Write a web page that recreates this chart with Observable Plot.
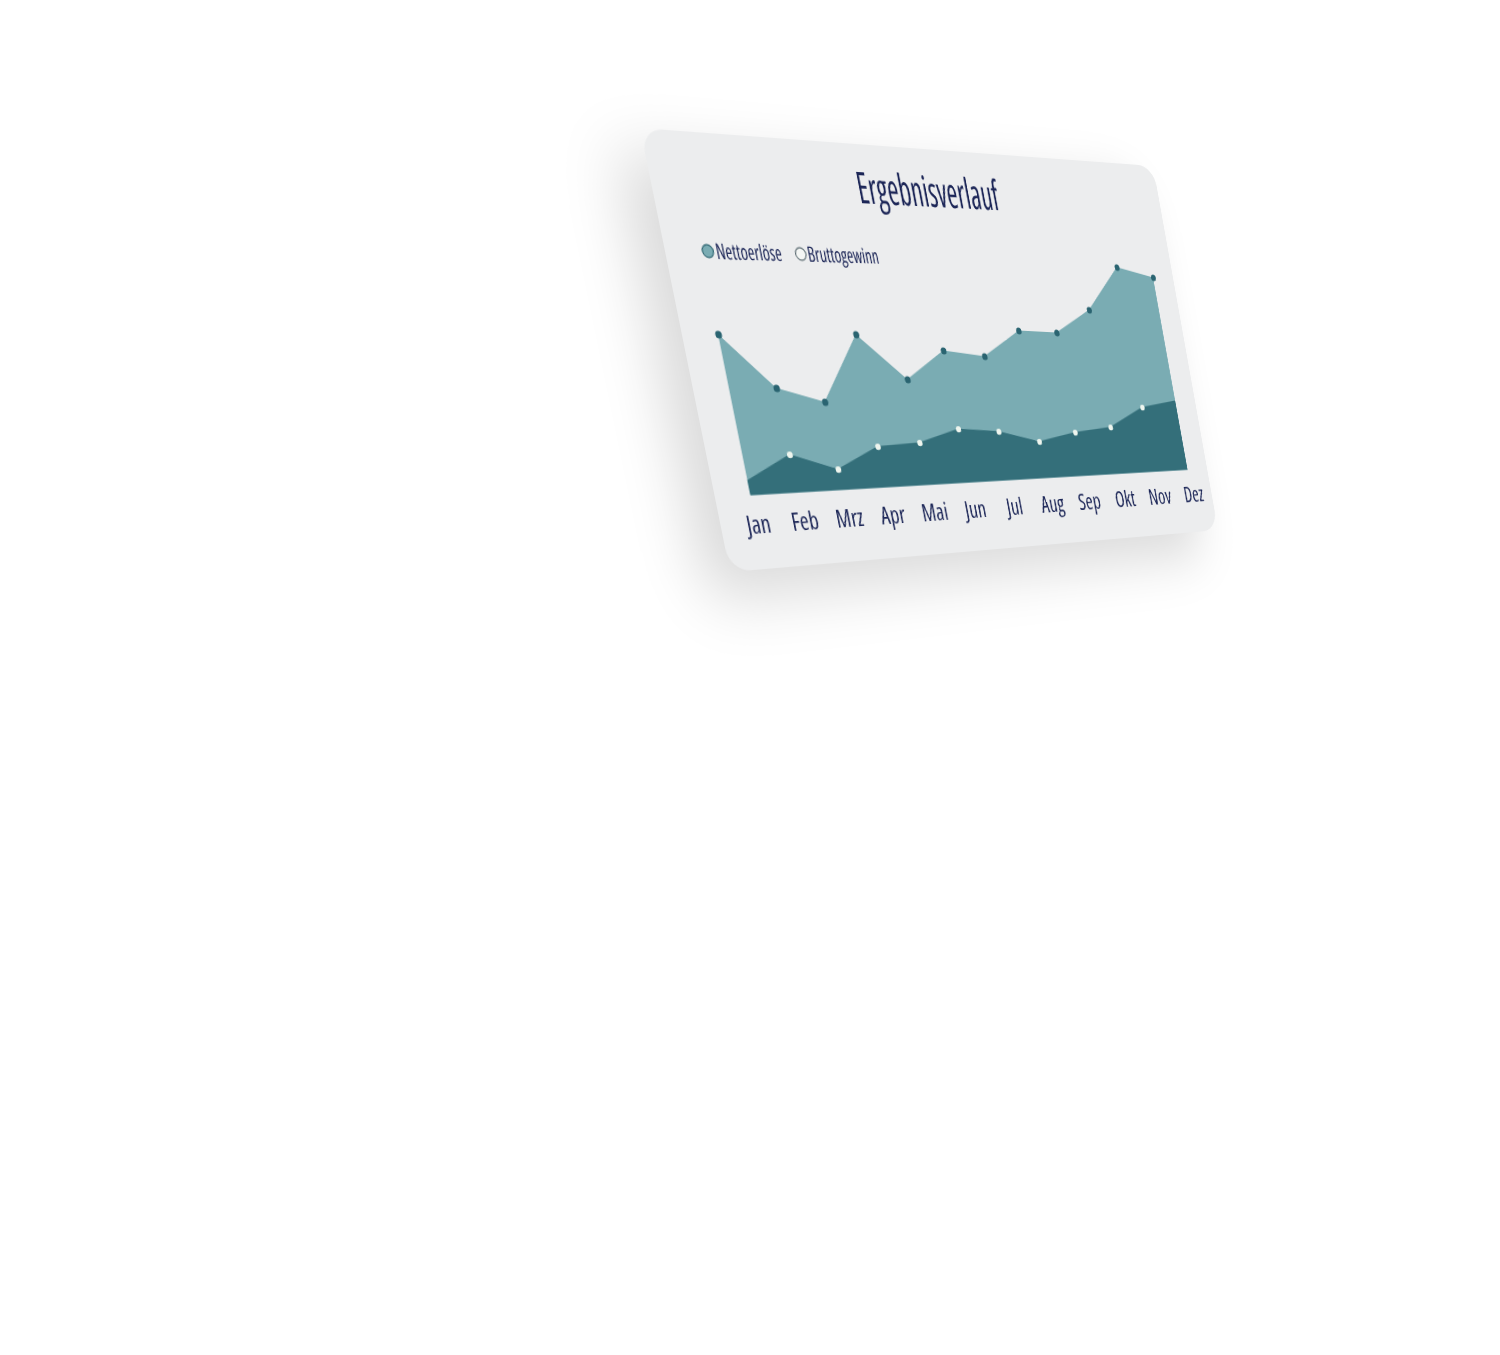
<!DOCTYPE html>
<html><head><meta charset="utf-8">
<script src="https://cdn.jsdelivr.net/npm/d3@7"></script>
<script src="https://cdn.jsdelivr.net/npm/@observablehq/plot@0.6"></script>
<style>
html,body{margin:0;padding:0;background:#fff;}
body{width:1500px;height:1355px;overflow:hidden;position:relative;}
#card{position:absolute;left:0;top:0;width:628px;height:400px;transform-origin:0 0;border-radius:22px;background:#ecedee;box-shadow:-30px 24px 60px rgba(0,0,0,0.15);overflow:hidden;}
#card svg{position:absolute;left:0;top:0;font-stretch:75%;}
</style></head><body>
<div id="card"></div>
<script>
// ---- data ----
const months = ["Jan","Feb","Mrz","Apr","Mai","Jun","Jul","Aug","Sep","Okt","Nov","Dez"];
const nettoerloese = [74,49,42,74,52,66,63,76,75,87,110,105];
const bruttogewinn = [7,18,10,20,21,27,25,19,23,25,35,38];
const seriesNames = ["Nettoerlöse","Bruttogewinn"];
const titleText = "Ergebnisverlauf";

const W = 628, H = 400;
const ink = "#1c2657", light = "#7aacb3", dark = "#346f7a";
const font = "'Open Sans', 'Roboto', sans-serif";

// card placement (perspective)
function quadMatrix(W, H, p) {
  const [x0,y0]=p[0],[x1,y1]=p[1],[x2,y2]=p[2],[x3,y3]=p[3];
  const dx1=x1-x2, dx2=x3-x2, dx3=x0-x1+x2-x3;
  const dy1=y1-y2, dy2=y3-y2, dy3=y0-y1+y2-y3;
  const den=dx1*dy2-dx2*dy1;
  const g=(dx3*dy2-dx2*dy3)/den, h=(dx1*dy3-dx3*dy1)/den;
  const a=x1-x0+g*x1, b=x3-x0+h*x3, c=x0, d=y1-y0+g*y1, e=y3-y0+h*y3, f=y0;
  return `matrix3d(${a/W},${d/W},0,${g/W},${b/H},${e/H},0,${h/H},0,0,1,0,${c},${f},0,1)`;
}
const card = document.getElementById("card");
card.style.transform = quadMatrix(W, H, [[640,128],[1153,166],[1218,530],[730,572]]);

const data = months.map((m, i) => ({i, month: m, netto: nettoerloese[i], brutto: bruttogewinn[i]}));

const chart = Plot.plot({
  width: W, height: H,
  marginLeft: 37.7, marginRight: 30.1, marginTop: 91.6, marginBottom: 68.4,
  x: {type: "linear", domain: [0, months.length - 1], axis: null},
  y: {domain: [0, 120], axis: null},
  style: {background: "transparent", overflow: "visible", fontFamily: font},
  marks: [
    Plot.areaY(data, {x: "i", y1: 0, y2: "netto", fill: light}),
    Plot.areaY(data, {x: "i", y1: 0, y2: "brutto", fill: dark}),
    Plot.dot(data, {x: "i", y: "netto", r: 3.5, fill: "#2a6471"}),
    Plot.dot(data.filter(d => d.i > 0 && d.i < months.length - 1), {x: "i", y: "brutto", r: 3.2, fill: "#eef5ee"}),
    Plot.text(data, {x: "i", text: "month", frameAnchor: "bottom", lineAnchor: "top", dy: 18, dx: 2,
      fontSize: 24, fontWeight: 530, fill: ink, ariaLabel: "month-labels"})
  ]
});
chart.style.fontStretch = "75%";
card.appendChild(chart);

function condense(t, k) {
  const tr = t.getAttribute("transform");
  if (tr) t.setAttribute("transform", tr + ` scale(${k},1)`);
  else {
    const x = +t.getAttribute("x") || 0, y = +t.getAttribute("y") || 0;
    t.removeAttribute("x"); t.removeAttribute("y");
    t.setAttribute("transform", `translate(${x},${y}) scale(${k},1)`);
  }
}
chart.querySelectorAll('g[aria-label="month-labels"] text').forEach(t => condense(t, 0.6));

// title + legend
const over = d3.create("svg").attr("width", W).attr("height", H)
  .style("font-family", font).style("font-stretch", "75%").style("overflow", "visible");
over.append("text").attr("transform", "translate(313,57) scale(0.78,1)")
  .attr("text-anchor", "middle").attr("font-size", 42).attr("font-weight", 500)
  .attr("fill", ink).text(titleText);
const leg = [
  {cx: 44.6, tx: 53, fill: light, stroke: "#2f6672", name: seriesNames[0]},
  {cx: 145.4, tx: 153, fill: "#f4f6f4", stroke: "#5d6d73", name: seriesNames[1]}
];
leg.forEach(l => {
  over.append("circle").attr("cx", l.cx).attr("cy", 108).attr("r", 5.8)
    .attr("fill", l.fill).attr("stroke", l.stroke).attr("stroke-width", 1.2);
  over.append("text").attr("transform", `translate(${l.tx},115) scale(0.88,1)`)
    .attr("font-size", 20).attr("font-weight", 510).attr("fill", ink).text(l.name);
});
card.appendChild(over.node());
</script>
</body></html>
